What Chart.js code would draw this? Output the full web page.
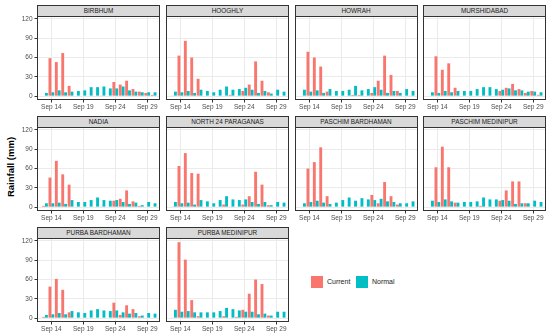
<!DOCTYPE html>
<html>
<head>
<meta charset="utf-8">
<script src="https://cdn.jsdelivr.net/npm/chart.js@4.4.1/dist/chart.umd.min.js"></script>
<style>
  body { margin: 0; background: #fff; font-family: "Liberation Sans", Arial, sans-serif; }
  #wrap { position: relative; width: 550px; height: 335px; overflow: hidden; }
  .strip {
    position: absolute; box-sizing: border-box; height: 12px;
    background: #d9d9d9; border: 1px solid #333;
    font-size: 6.4px; color: #1a1a1a; text-align: center; line-height: 10px;
  }
  .cv { position: absolute; }
  .ytitle {
    position: absolute; left: 10px; top: 167px; font-weight: bold; font-size: 9.5px;
    transform: translate(-50%, -50%) rotate(-90deg); white-space: nowrap; color: #000;
  }
  .key { position: absolute; width: 12px; height: 12px; }
  .keytext { position: absolute; font-size: 7px; color: #1a1a1a; line-height: 12px; }
</style>
</head>
<body>
<div id="wrap">
  <div class="ytitle">Rainfall (mm)</div>
  <div class="key" style="left:311px;top:276px;background:#F8766D"></div>
  <div class="keytext" style="left:327px;top:276px">Current</div>
  <div class="key" style="left:356px;top:276px;background:#00BFC4"></div>
  <div class="keytext" style="left:372px;top:276px">Normal</div>
</div>
<script>
// days of September shown
const days = [13, 14, 15, 16, 17, 18, 19, 20, 21, 22, 23, 24, 25, 26, 27, 28, 29, 30];
const xTicks = [14, 19, 24, 29];
const yTicks = [0, 30, 60, 90, 120];

const birbhumCurrent = [0, 59, 53, 67, 16, 0, 0, 0, 0, 1, 0, 22, 18, 24, 11, 7, 5, 2];
const birbhumNormal  = [5, 6, 9, 6, 7, 8, 9, 14, 14, 15, 12, 12, 15, 9, 7, 6, 6, 6];
const hooghlyCurrent = [1, 63, 86, 60, 27, 0, 0, 0, 0, 2, 0, 8, 18, 54, 24, 6, 0, 0];
const hooghlyNormal  = [7, 6, 8, 5, 10, 8, 6, 10, 15, 10, 11, 13, 10, 5, 8, 4, 10, 7];
const howrahCurrent  = [0, 69, 60, 46, 7, 0, 0, 0, 2, 2, 0, 5, 24, 63, 33, 8, 0, 1];
const howrahNormal   = [10, 7, 9, 5, 11, 8, 8, 10, 16, 9, 11, 14, 10, 5, 8, 5, 11, 8];
const murshidabadCurrent = [0, 62, 41, 51, 13, 0, 0, 0, 0, 1, 0, 8, 13, 19, 11, 5, 8, 2];
const murshidabadNormal  = [6, 5, 8, 6, 8, 8, 8, 11, 14, 14, 11, 10, 12, 9, 9, 7, 7, 6];
const nadiaCurrent = [2, 46, 72, 51, 35, 0, 0, 0, 0, 1, 0, 10, 13, 26, 9, 2, 0, 0];
const nadiaNormal  = [6, 6, 7, 5, 11, 8, 8, 11, 15, 11, 10, 11, 8, 5, 7, 3, 8, 6];
const north24Current = [1, 64, 84, 53, 52, 0, 0, 0, 4, 1, 0, 4, 17, 55, 35, 3, 0, 0];
const north24Normal  = [8, 6, 7, 4, 11, 9, 6, 11, 17, 12, 11, 12, 8, 5, 8, 3, 8, 7];
const paschimBardhamanCurrent = [0, 60, 70, 93, 17, 0, 0, 0, 0, 1, 0, 19, 6, 39, 17, 4, 0, 0];
const paschimBardhamanNormal  = [6, 8, 10, 7, 5, 7, 11, 15, 10, 14, 12, 11, 13, 9, 8, 6, 6, 9];
const paschimMedinipurCurrent = [0, 62, 94, 62, 7, 0, 0, 0, 2, 0, 0, 10, 26, 40, 40, 6, 0, 0];
const paschimMedinipurNormal  = [10, 8, 12, 9, 7, 8, 8, 9, 15, 12, 12, 11, 10, 5, 6, 6, 10, 8];
const purbaBardhamanCurrent = [2, 49, 61, 44, 9, 0, 0, 0, 0, 0, 0, 24, 5, 20, 14, 3, 0, 0];
const purbaBardhamanNormal  = [5, 6, 8, 6, 11, 9, 8, 12, 14, 12, 11, 12, 9, 7, 8, 4, 8, 7];
const purbaMedinipurCurrent = [1, 118, 91, 28, 3, 0, 0, 0, 3, 0, 2, 13, 38, 60, 53, 4, 0, 0];
const purbaMedinipurNormal  = [13, 10, 11, 9, 9, 9, 9, 11, 16, 14, 12, 10, 10, 6, 7, 4, 10, 10];

const panels = [
  ["BIRBHUM", birbhumCurrent, birbhumNormal],
  ["HOOGHLY", hooghlyCurrent, hooghlyNormal],
  ["HOWRAH", howrahCurrent, howrahNormal],
  ["MURSHIDABAD", murshidabadCurrent, murshidabadNormal],
  ["NADIA", nadiaCurrent, nadiaNormal],
  ["NORTH 24 PARAGANAS", north24Current, north24Normal],
  ["PASCHIM BARDHAMAN", paschimBardhamanCurrent, paschimBardhamanNormal],
  ["PASCHIM MEDINIPUR", paschimMedinipurCurrent, paschimMedinipurNormal],
  ["PURBA BARDHAMAN", purbaBardhamanCurrent, purbaBardhamanNormal],
  ["PURBA MEDINIPUR", purbaMedinipurCurrent, purbaMedinipurNormal],
];

const colX = [37, 166, 294.5, 423];
const rowY = [16, 127, 237.5];
const panelW = 123;
const panelH = 84;
const wrap = document.getElementById("wrap");

// draws the dark panel border like theme_bw
const borderPlugin = {
  id: "panelBorder",
  afterDraw(chart) {
    const a = chart.chartArea;
    const ctx = chart.ctx;
    ctx.save();
    ctx.strokeStyle = "#333";
    ctx.lineWidth = 1;
    ctx.strokeRect(a.left + 0.5, a.top + 0.5, a.right - a.left - 1, a.bottom - a.top - 1);
    ctx.restore();
  },
};

panels.forEach(([name, current, normal], i) => {
  const col = i % 4;
  const row = Math.floor(i / 4);
  const yW = col === 0 ? 24 : 0;
  const left = colX[col];
  const top = rowY[row];

  const strip = document.createElement("div");
  strip.className = "strip";
  strip.textContent = name;
  strip.style.left = left + "px";
  strip.style.top = top - 11 + "px";
  strip.style.width = panelW + "px";
  wrap.appendChild(strip);

  const canvas = document.createElement("canvas");
  canvas.className = "cv";
  canvas.style.left = left - yW + "px";
  canvas.style.top = top + "px";
  canvas.style.width = panelW + yW + "px";
  canvas.style.height = panelH + 13 + "px";
  canvas.width = panelW + yW;
  canvas.height = panelH + 13;
  wrap.appendChild(canvas);

  new Chart(canvas.getContext("2d"), {
    type: "bar",
    data: {
      datasets: [
        {
          label: "Current",
          data: days.map((d, k) => ({ x: d, y: current[k] })),
          backgroundColor: "#F8766D",
        },
        {
          label: "Normal",
          data: days.map((d, k) => ({ x: d, y: normal[k] })),
          backgroundColor: "#00BFC4",
        },
      ],
    },
    options: {
      responsive: false,
      animation: false,
      events: [],
      layout: { padding: 0 },
      datasets: { bar: { categoryPercentage: 0.9, barPercentage: 1.0 } },
      plugins: { legend: { display: false }, tooltip: { enabled: false } },
      scales: {
        x: {
          type: "linear",
          offset: false,
          min: 11.75,
          max: 31,
          afterBuildTicks: (s) => { s.ticks = xTicks.map((v) => ({ value: v })); },
          afterFit: (s) => { s.height = 13; s.paddingLeft = 0; s.paddingRight = 0; },
          ticks: {
            callback: (v) => "Sep " + v,
            font: { size: 6.5, family: "Liberation Sans" },
            color: "#4d4d4d",
            padding: 1,
            maxRotation: 0,
            autoSkip: false,
          },
          grid: { offset: false, color: "#ebebeb", tickColor: "#333", tickLength: 2.5, lineWidth: 1 },
          border: { display: false },
        },
        y: {
          min: -6,
          max: 124.6,
          afterBuildTicks: (s) => { s.ticks = yTicks.map((v) => ({ value: v })); },
          afterFit: (s) => { s.width = yW; s.paddingTop = 0; s.paddingBottom = 0; },
          ticks: {
            display: col === 0,
            font: { size: 6.5, family: "Liberation Sans" },
            color: "#4d4d4d",
            padding: 2,
          },
          grid: {
            color: "#ebebeb",
            tickColor: "#333",
            tickLength: 2.5,
            drawTicks: col === 0,
          },
          border: { display: false },
        },
      },
    },
    plugins: [borderPlugin],
  });
});
</script>
</body>
</html>
